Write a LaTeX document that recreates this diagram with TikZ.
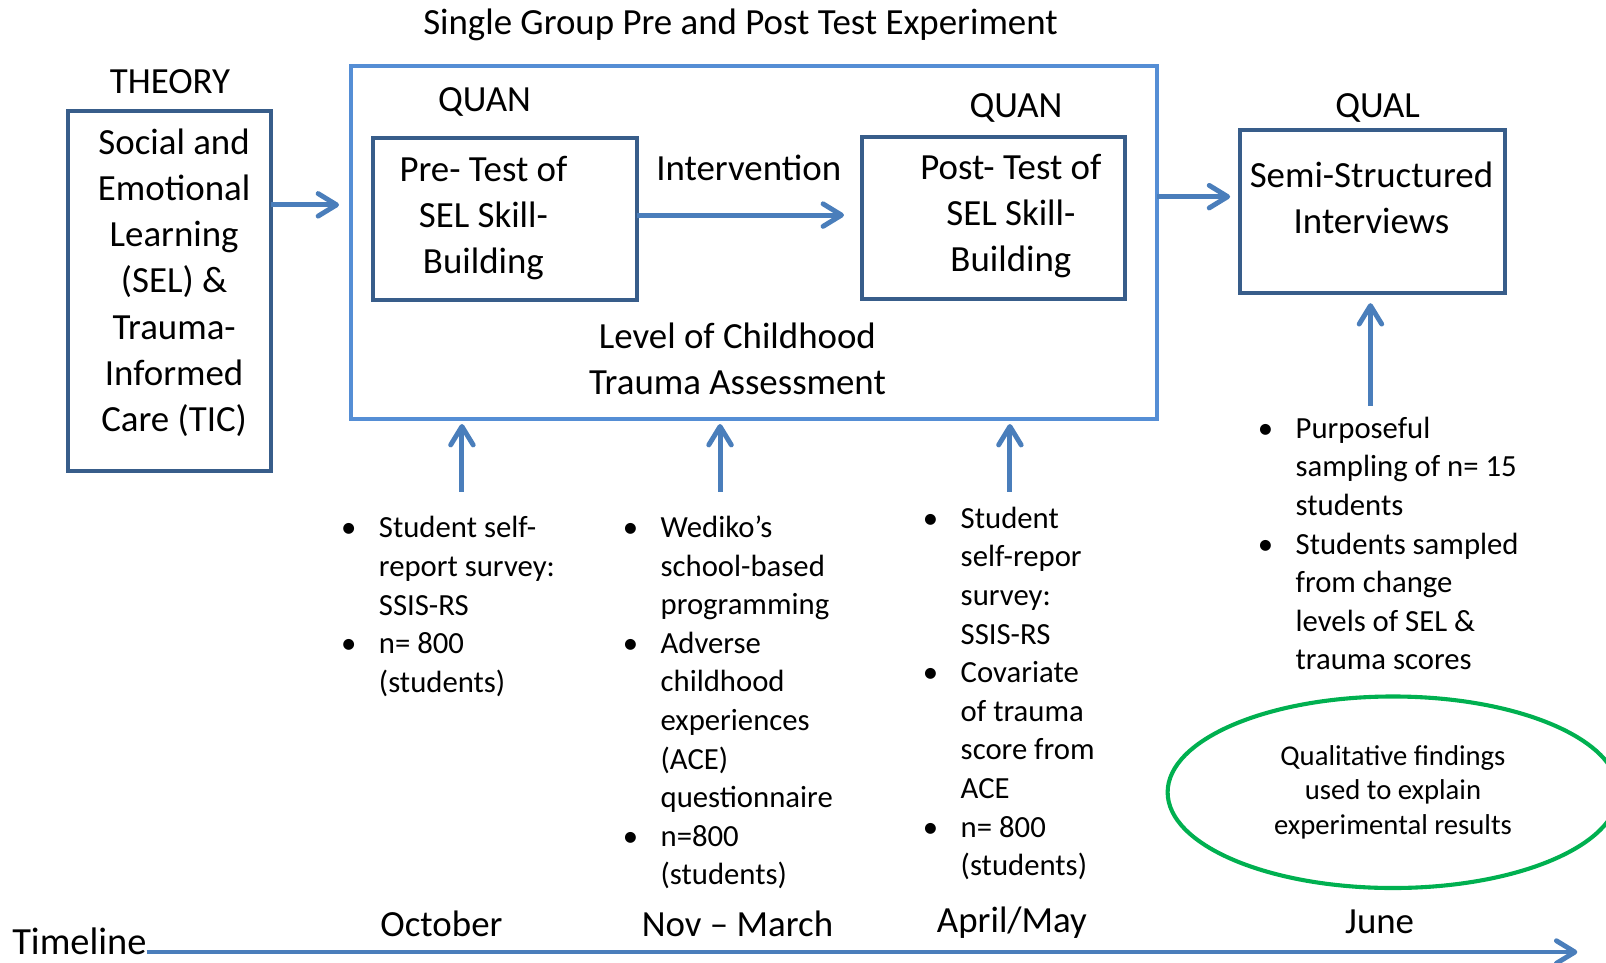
\documentclass[tikz,border=0pt]{standalone}
\usepackage{fontspec}
\setmainfont{Carlito}
\usetikzlibrary{arrows.meta}
\usetikzlibrary{shapes.geometric}

\definecolor{boxblue}{HTML}{385D8A}
\definecolor{frameblue}{HTML}{558ED5}
\definecolor{arrowblue}{HTML}{4A7EBB}
\definecolor{ovalgreen}{HTML}{00B050}

\newcommand{\bul}{\llap{\textbullet\hspace{22pt}}}

\begin{document}
\begin{tikzpicture}[x=1pt, y=-1pt,
    every node/.style = {inner sep=0pt, outer sep=0pt},
    big/.style = {font=\fontsize{36}{45}\selectfont, align=center},
    small/.style = {font=\fontsize{30}{37.7}\selectfont, align=left},
    box/.style = {draw=boxblue, line width=4pt},
    flow/.style = {arrowblue, line width=4.8pt, -{Straight Barb[length=18pt, width=22pt, round]}}]
            \useasboundingbox (0,0) rectangle (1568,940);

            \node[big, anchor=base] (title) at (723,34) {Single Group Pre and Post Test Experiment};
            \node[big, anchor=base] (theorylbl) at (166,91) {THEORY};
            \node[big, anchor=base] (quanA) at (473,109) {QUAN};
            \node[big, anchor=base] (quanB) at (992,115) {QUAN};
            \node[big, anchor=base] (qual) at (1345,115) {QUAL};

            \node[box, minimum width=199pt, minimum height=352pt] (theory) at (165.5,284) {};
            \node[draw=frameblue, line width=4pt, minimum width=787pt, minimum height=345pt] (frame) at (736.5,236.5) {};
            \node[box, minimum width=258pt, minimum height=158pt] (pre) at (493,214) {};
            \node[box, minimum width=256pt, minimum height=158pt] (post) at (970,213) {};
            \node[box, minimum width=258pt, minimum height=159pt] (semi) at (1340,206.5) {};

            \node[big, anchor=base] (theorytxt) at (170,421) {Social and\\Emotional\\Learning\\(SEL) \&\\Trauma-\\Informed\\Care (TIC)};
            \node[big, anchor=base] (pretxt) at (472,267) {Pre- Test of\\SEL Skill-\\Building};
            \node[big, anchor=base] (intv) at (731,176) {Intervention};
            \node[big, anchor=base] (posttxt) at (987,265) {Post- Test of\\SEL Skill-\\Building};
            \node[big, anchor=base] (semitxt) at (1339,228) {Semi-Structured\\Interviews};
            \node[big, anchor=base] (level) at (720,385) {Level of Childhood\\Trauma Assessment};

            \draw[flow] (theory.east |- 0,200) -- ([xshift=-12pt]frame.west |- 0,200);
            \draw[flow] (pre.east |- 0,210) -- ([xshift=-18pt]post.west |- 0,210);
            \draw[flow] (frame.east |- 0,192) -- ([xshift=-10pt]semi.west |- 0,192);

            \node[small, anchor=base west] (listA) at (370,676) {\bul Student self-\\report survey:\\SSIS-RS\\\bul n= 800\\(students)};
            \node[small, anchor=base west] (listB) at (645,864) {\bul Wediko’s\\school-based\\programming\\\bul Adverse\\childhood\\experiences\\(ACE)\\questionnaire\\\bul n=800\\(students)};
            \node[small, anchor=base west] (listC) at (938,855) {\bul Student\\self-repor\\survey:\\SSIS-RS\\\bul Covariate\\of trauma\\score from\\ACE\\\bul n= 800\\(students)};
            \node[small, anchor=base west] (listD) at (1265,654) {\bul Purposeful\\sampling of n= 15\\students\\\bul Students sampled\\from change\\levels of SEL \&\\trauma scores};

            \coordinate (upA) at (451,480);
            \coordinate (upB) at (703,480);
            \coordinate (upC) at (986,480);
            \coordinate (upD) at (1338,396);
            \foreach \c in {upA, upB, upC}
                \draw[flow] (\c) -- ([yshift=-5pt]frame.south -| \c);
            \draw[flow] (upD) -- ([yshift=-10pt]semi.south -| upD);

            \node[draw=ovalgreen, line width=4pt, ellipse, minimum width=440pt, minimum height=187pt,
                  font=\fontsize{28}{34}\selectfont, align=center] (oval) at (1360,773.5)
                  {Qualitative findings\\used to explain\\experimental results};

            \node[big, anchor=base] (oct) at (431,914) {October};
            \node[big, anchor=base] (novmar) at (720,914) {Nov – March};
            \node[big, anchor=base] (aprmay) at (988,910) {April/May};
            \node[big, anchor=base] (june) at (1347,911) {June};

            \node[font=\fontsize{37.5}{45}\selectfont, anchor=base west] (tl) at (12,932) {Timeline};
            \coordinate (tlend) at (1540,929.5);
            \draw[flow] (tl.east |- tlend) -- (tlend);
        \end{tikzpicture}
\end{document}
